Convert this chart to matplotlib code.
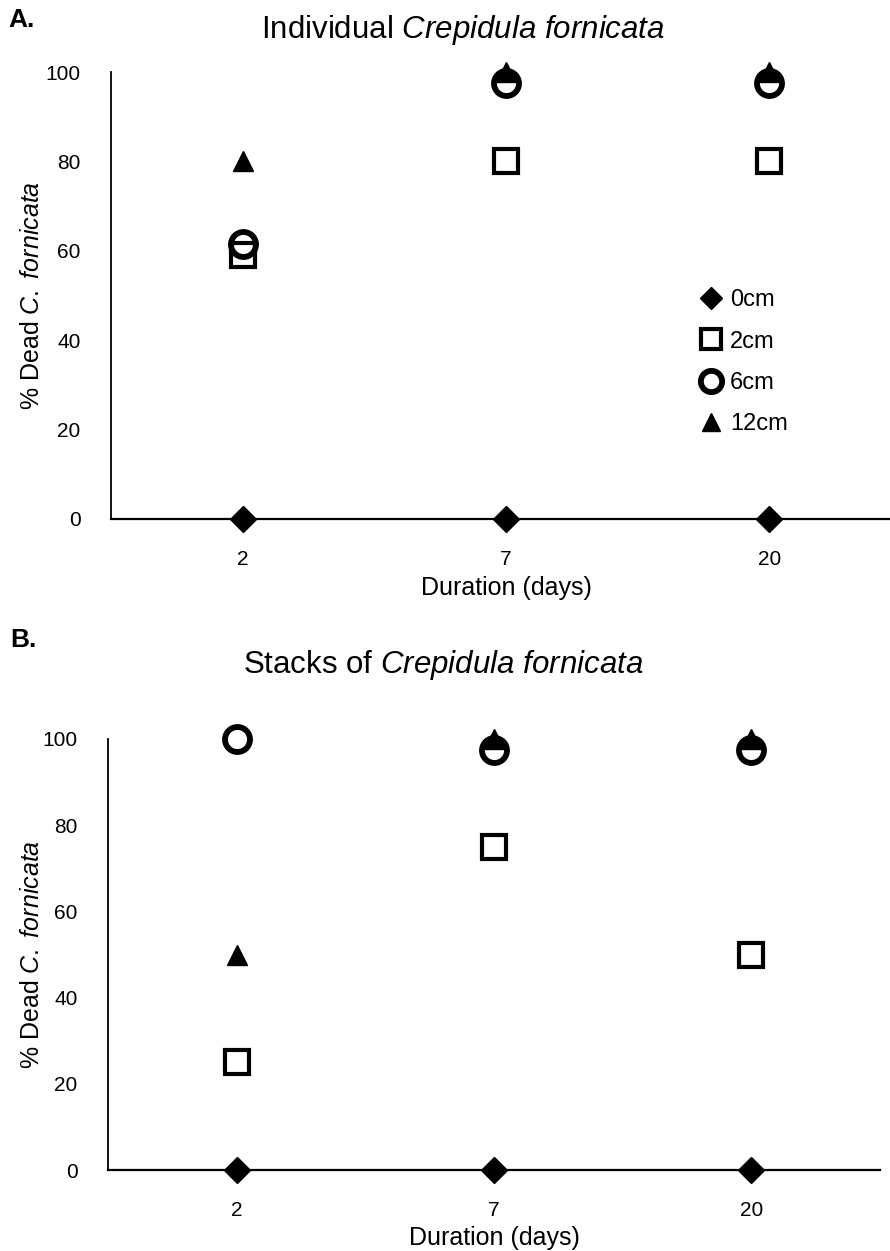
import matplotlib
matplotlib.use("Agg")
import matplotlib.pyplot as plt
from matplotlib.lines import Line2D

plt.rcParams['font.family'] = ['Liberation Sans', 'DejaVu Sans']
plt.rcParams['mathtext.fontset'] = 'custom'
plt.rcParams['mathtext.rm'] = 'Liberation Sans'
plt.rcParams['mathtext.it'] = 'Liberation Sans:italic'
plt.rcParams['mathtext.bf'] = 'Liberation Sans:bold'

durations = ["2", "7", "20"]
series = ["0cm", "2cm", "6cm", "12cm"]

# Panel A: Individual Crepidula fornicata
a_0cm = [0, 0, 0]
a_2cm = [59, 80, 80]
a_6cm = [61.5, 97.5, 97.5]
a_12cm = [80, 100, 100]

# Panel B: Stacks of Crepidula fornicata
b_0cm = [0, 0, 0]
b_2cm = [25, 75, 50]
b_6cm = [100, 97.5, 97.5]
b_12cm = [50, 100, 100]

styles = {
    "0cm": dict(marker="D", ms=13, mfc="black", mec="black", mew=1),
    "2cm": dict(marker="s", ms=17, mfc="none", mec="black", mew=3),
    "6cm": dict(marker="o", ms=18, mfc="none", mec="black", mew=4.2),
    "12cm": dict(marker="^", ms=15, mfc="black", mec="black", mew=1),
}

W, H = 890, 1251
fig = plt.figure(figsize=(W / 100, H / 100), dpi=100)


def make_ax(left, right, y0, y100):
    return fig.add_axes([left / W, 1 - y0 / H, (right - left) / W, (y0 - y100) / H])


def draw(ax, data, left_px, width_px, title, title_xy, panel_label, label_xy, with_legend):
    x = list(range(len(durations)))
    for name, vals in zip(series, data):
        ax.plot(x, vals, linestyle="none", clip_on=False, zorder=3, **styles[name])
    ax.set_xlim(-0.5, len(durations) - 0.5)
    ax.set_ylim(0, 100)
    ax.set_xticks(x)
    ax.set_xticklabels(durations)
    ax.set_yticks([0, 20, 40, 60, 80, 100])
    ax.tick_params(length=0, labelsize=15)
    ax.tick_params(axis="y", pad=22)
    ax.tick_params(axis="x", pad=22)
    for s in ["top", "right"]:
        ax.spines[s].set_visible(False)
    ax.spines["left"].set_linewidth(1.3)
    ax.spines["bottom"].set_linewidth(1.6)
    ax.set_xlabel("Duration (days)", fontsize=18, labelpad=5)
    ax.set_ylabel("% Dead $\\mathit{C.\\ fornicata}$", fontsize=18)
    ax.yaxis.set_label_coords((44 - left_px) / width_px, 0.5)
    fig.text(title_xy[0] / W, 1 - title_xy[1] / H, title, fontsize=22.5,
             ha="center", va="center")
    fig.text(label_xy[0] / W, 1 - label_xy[1] / H, panel_label, fontsize=19,
             fontweight="bold", ha="left", va="center")
    if with_legend:
        handles = [Line2D([], [], linestyle="none", **dict(styles[n], ms=styles[n]["ms"] * 0.85))
                   for n in series]
        ax.legend(handles, series, loc="upper left", bbox_to_anchor=(0.727, 0.535),
                  frameon=False, fontsize=17, handletextpad=0.1, labelspacing=0.82,
                  borderaxespad=0, handlelength=1.4)


axA = make_ax(111, 901, 519, 72)
draw(axA, [a_0cm, a_2cm, a_6cm, a_12cm], 111, 790,
     "Individual $\\mathit{Crepidula\\ fornicata}$", (463, 30), "A.", (8, 20), True)

axB = make_ax(108, 880, 1170, 739)
draw(axB, [b_0cm, b_2cm, b_6cm, b_12cm], 108, 772,
     "Stacks of $\\mathit{Crepidula\\ fornicata}$", (443, 665), "B.", (10, 640), False)

fig.savefig("out.png", dpi=100)
